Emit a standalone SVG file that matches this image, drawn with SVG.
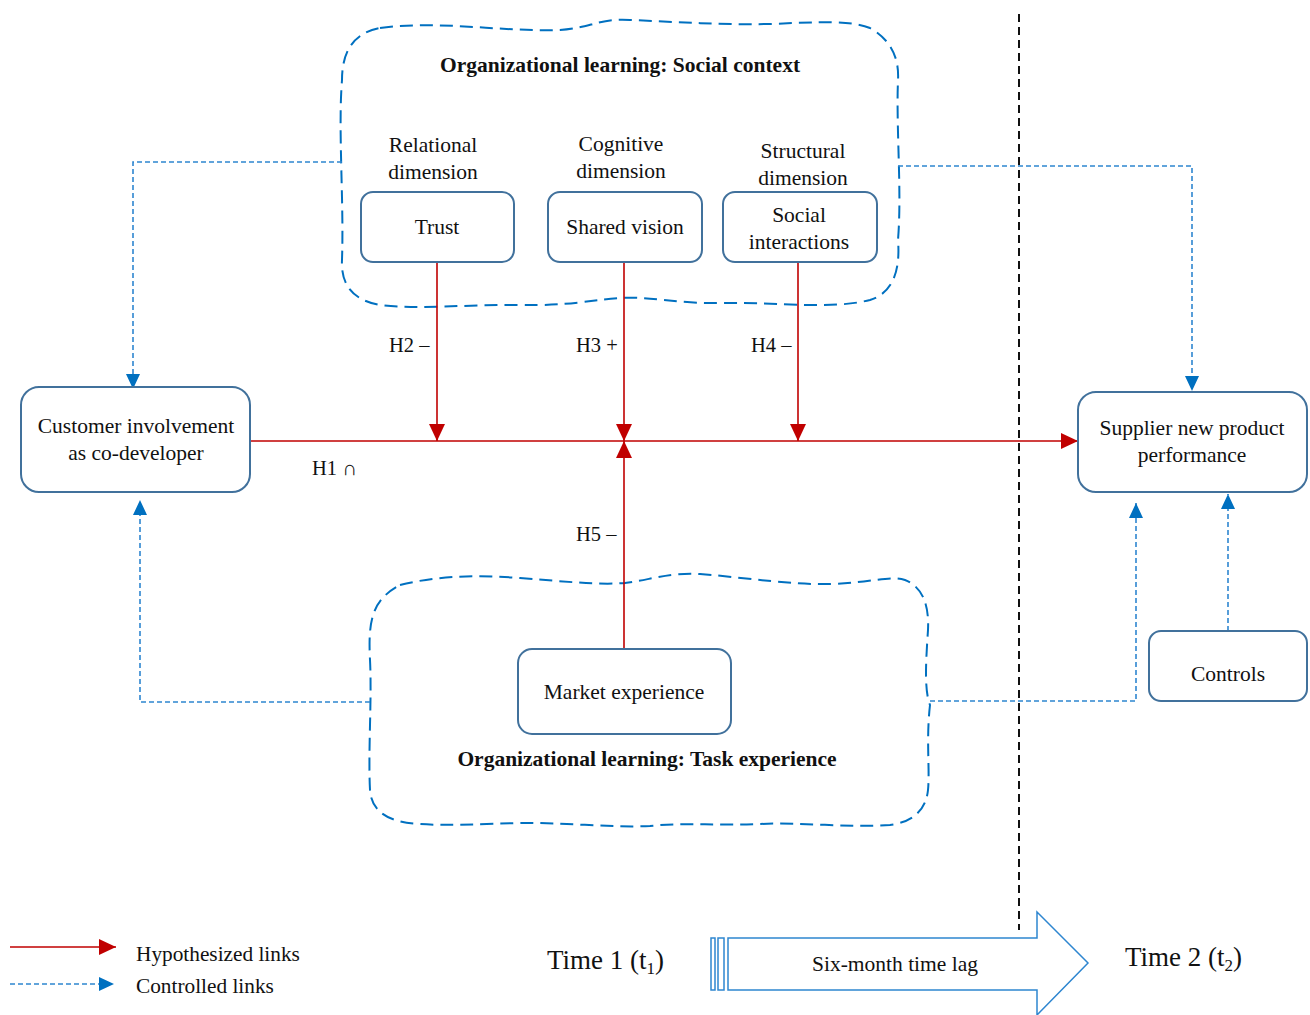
<svg xmlns="http://www.w3.org/2000/svg" width="1310" height="1015" viewBox="0 0 1310 1015">
<style>
text{font-family:"Liberation Serif","Times New Roman",serif;fill:#111;}
.n{font-size:21.5px;text-anchor:middle;}
.h{font-size:20.5px;}
.b{font-size:21.5px;font-weight:bold;text-anchor:middle;}
.box{fill:#fff;stroke:#41719C;stroke-width:2;}
.cloud{fill:none;stroke:#0070C0;stroke-width:2;stroke-dasharray:13,7;}
.red{fill:none;stroke:#C00000;stroke-width:1.6;}
.blue{fill:none;stroke:#2E86D0;stroke-width:1.6;stroke-dasharray:5,3;}
</style>
<defs>
<marker id="ar" markerUnits="userSpaceOnUse" markerWidth="18" markerHeight="16" refX="17" refY="8" orient="auto" viewBox="0 0 18 16"><path d="M0,0 L17,8 L0,16 Z" fill="#C00000"/></marker>
<marker id="ab" markerUnits="userSpaceOnUse" markerWidth="16" markerHeight="16" refX="15" refY="8" orient="auto" viewBox="0 0 16 16"><path d="M0,1 L15,8 L0,15 Z" fill="#0070C0"/></marker>
</defs>
<rect width="1310" height="1015" fill="#fff"/>

<g id="cloud-social">
<path class="cloud" d="M 380,28 C 440,20 500,32 560,30 C 590,28 600,18 630,20 C 680,22 720,25 770,24 C 820,22 850,20 870,28 Q 900,45 898,80 C 896,130 902,190 898,240 Q 902,290 870,300 C 830,310 780,302 720,303 C 680,304 650,296 620,298 C 590,300 570,306 520,305 C 470,304 420,310 380,305 Q 340,298 342,260 C 344,200 338,130 342,80 Q 342,35 380,28 Z"/>
<text class="b" x="620" y="72">Organizational learning: Social context</text>
<text class="n" x="433" y="152">Relational</text>
<text class="n" x="433" y="179">dimension</text>
<text class="n" x="621" y="151">Cognitive</text>
<text class="n" x="621" y="178">dimension</text>
<text class="n" x="803" y="158">Structural</text>
<text class="n" x="803" y="185">dimension</text>
</g>

<g id="cloud-task">
<path class="cloud" d="M 400,585 C 440,575 480,575 520,578 C 570,582 600,585 625,583 C 650,580 670,572 700,574 C 750,578 790,585 830,584 C 870,583 890,575 905,580 Q 930,590 928,630 C 926,660 924,690 930,705 C 926,740 930,770 928,790 Q 925,820 890,825 C 850,828 800,822 760,824 C 720,826 690,822 650,826 C 610,828 560,822 520,823 C 480,824 450,826 420,824 Q 372,822 370,790 C 368,750 372,700 370,660 C 368,620 372,600 400,585 Z"/>
<text class="b" x="647" y="766">Organizational learning: Task experience</text>
</g>

<g id="timeline">
<line x1="1019" y1="14" x2="1019" y2="930" stroke="#111" stroke-width="2" stroke-dasharray="8,5"/>
</g>

<g id="connectors">
<path class="red" d="M250,441 L1078,441" marker-end="url(#ar)"/>
<path class="red" d="M437,262 L437,441" marker-end="url(#ar)"/>
<path class="red" d="M624,262 L624,441" marker-end="url(#ar)"/>
<path class="red" d="M798,262 L798,441" marker-end="url(#ar)"/>
<path class="red" d="M624,649 L624,441" marker-end="url(#ar)"/>
<path class="blue" d="M342,162 L133,162 L133,389" marker-end="url(#ab)"/>
<path class="blue" d="M898,166 L1192,166 L1192,391" marker-end="url(#ab)"/>
<path class="blue" d="M370,702 L140,702 L140,500" marker-end="url(#ab)"/>
<path class="blue" d="M930,701 L1136,701 L1136,503" marker-end="url(#ab)"/>
<path class="blue" d="M1228,631 L1228,494" marker-end="url(#ab)"/>
<text class="h" x="389" y="352">H2 –</text>
<text class="h" x="576" y="352">H3 +</text>
<text class="h" x="751" y="352">H4 –</text>
<text class="h" x="312" y="475">H1 ∩</text>
<text class="h" x="576" y="541">H5 –</text>
</g>

<g id="trust"><rect class="box" x="361" y="192" width="153" height="70" rx="12"/><text class="n" x="437" y="234">Trust</text></g>
<g id="shared-vision"><rect class="box" x="548" y="192" width="154" height="70" rx="12"/><text class="n" x="625" y="234">Shared vision</text></g>
<g id="social-interactions"><rect class="box" x="723" y="192" width="154" height="70" rx="12"/><text class="n" x="799" y="222">Social</text><text class="n" x="799" y="249">interactions</text></g>
<g id="customer"><rect class="box" x="21" y="387" width="229" height="105" rx="18"/><text class="n" x="136" y="433">Customer involvement</text><text class="n" x="136" y="460">as co-developer</text></g>
<g id="supplier"><rect class="box" x="1078" y="392" width="229" height="100" rx="18"/><text class="n" x="1192" y="435">Supplier new product</text><text class="n" x="1192" y="462">performance</text></g>
<g id="controls"><rect class="box" x="1149" y="631" width="158" height="70" rx="12"/><text class="n" x="1228" y="681">Controls</text></g>
<g id="market"><rect class="box" x="518" y="649" width="213" height="85" rx="14"/><text class="n" x="624" y="699">Market experience</text></g>

<g id="legend">
<line x1="10" y1="947" x2="116" y2="947" class="red" marker-end="url(#ar)"/>
<text x="136" y="961" font-size="21.3">Hypothesized links</text>
<line x1="10" y1="984" x2="114" y2="984" class="blue" marker-end="url(#ab)"/>
<text x="136" y="993" font-size="21.3">Controlled links</text>
</g>

<g id="time-arrow">
<text x="547" y="969" font-size="27">Time 1 (t<tspan font-size="17" dy="5">1</tspan><tspan dy="-5">)</tspan></text>
<rect x="711" y="938" width="4" height="52" fill="#fff" stroke="#2E86D0" stroke-width="1.5"/>
<rect x="718" y="938" width="6" height="52" fill="#fff" stroke="#2E86D0" stroke-width="1.5"/>
<path d="M728,938 L1037,938 L1037,912 L1088,963 L1037,1015 L1037,990 L728,990 Z" fill="#fff" stroke="#2E86D0" stroke-width="1.5"/>
<text x="895" y="971" font-size="21.5" text-anchor="middle">Six-month time lag</text>
<text x="1125" y="966" font-size="27">Time 2 (t<tspan font-size="17" dy="5">2</tspan><tspan dy="-5">)</tspan></text>
</g>
</svg>
